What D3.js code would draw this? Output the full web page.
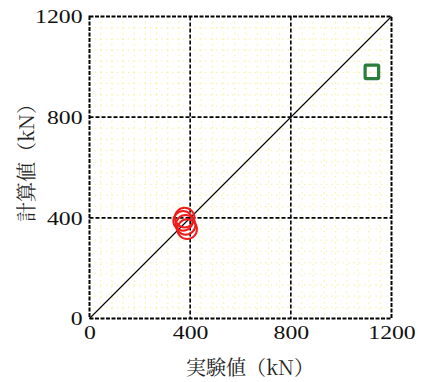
<!DOCTYPE html>
<html>
<head>
<meta charset="utf-8">
<script src="https://cdn.jsdelivr.net/npm/d3@7"></script>
<style>
  html, body { margin: 0; padding: 0; background: #fff; }
  svg { display: block; }
</style>
</head>
<body>
<svg id="chart" width="422" height="382"></svg>
<script>
// Axis settings
const domainMax = 1200;
const majorTicks = [0, 400, 800, 1200];
const minorDivisions = 27;

// Experimental vs computed capacity (kN)
const circleExp = [378, 372, 382, 388];
const circleCalc = [401, 388, 372, 355];
const squareExp = [1122];
const squareCalc = [980];

const xTitle = "実験値（kN）";
const yTitle = "計算値（kN）";

const margin = { left: 89.5, top: 16.5, right: 30.5, bottom: 63.5 };
const W = 422, H = 382;
const pw = W - margin.left - margin.right;
const ph = H - margin.top - margin.bottom;

const serifFont = '"Liberation Serif", "DejaVu Serif", serif';
const mincho = '"Noto Serif CJK JP", "Liberation Serif", serif';

const svg = d3.select("#chart");
const g = svg.append("g").attr("transform", `translate(${margin.left},${margin.top})`);

const x = d3.scaleLinear().domain([0, domainMax]).range([0, pw]);
const y = d3.scaleLinear().domain([0, domainMax]).range([ph, 0]);

// Minor dotted grid
const minorVals = d3.range(1, minorDivisions).map(i => i * domainMax / minorDivisions)
  .filter(v => !majorTicks.includes(Math.round(v)));
const minorStyle = sel => sel
  .attr("stroke", "#f2ea55").attr("stroke-width", 1.2).attr("stroke-dasharray", "1.2,4.3")
  .attr("opacity", 0.6);
g.append("g").selectAll("line").data(minorVals).join("line")
  .attr("x1", d => x(d)).attr("x2", d => x(d)).attr("y1", 0).attr("y2", ph)
  .call(minorStyle);
g.append("g").selectAll("line").data(minorVals).join("line")
  .attr("y1", d => y(d)).attr("y2", d => y(d)).attr("x1", 0).attr("x2", pw)
  .call(minorStyle);

// Major dashed grid
const inner = majorTicks.filter(v => v > 0 && v < domainMax);
g.append("g").selectAll("line").data(inner).join("line")
  .attr("x1", d => x(d)).attr("x2", d => x(d)).attr("y1", 0).attr("y2", ph)
  .attr("stroke", "#000").attr("stroke-width", 1.6).attr("stroke-dasharray", "4,2");
g.append("g").selectAll("line").data(inner).join("line")
  .attr("y1", d => y(d)).attr("y2", d => y(d)).attr("x1", 0).attr("x2", pw)
  .attr("stroke", "#000").attr("stroke-width", 1.6).attr("stroke-dasharray", "4,2");

// Frame
g.append("rect").attr("x", 0).attr("y", 0).attr("width", pw).attr("height", ph)
  .attr("fill", "none").attr("stroke", "#000").attr("stroke-width", 2)
  .attr("stroke-dasharray", "4,1.5");

// 1:1 line
g.append("line")
  .attr("x1", x(0)).attr("y1", y(0)).attr("x2", x(domainMax)).attr("y2", y(domainMax))
  .attr("stroke", "#000").attr("stroke-width", 1.1);

// Axes (labels only); digits are drawn slightly widened
const xAxis = d3.axisBottom(x).tickValues(majorTicks).tickFormat(d3.format("d")).tickSize(0).tickPadding(7);
const yAxis = d3.axisLeft(y).tickValues(majorTicks).tickFormat(d3.format("d")).tickSize(0).tickPadding(5.6);
const gx = g.append("g").attr("transform", `translate(0,${ph})`).call(xAxis);
const gy = g.append("g").call(yAxis);
[gx, gy].forEach(a => {
  a.attr("font-family", null).attr("font-size", null);
  a.select(".domain").remove();
  a.selectAll("text")
    .style("font-family", serifFont)
    .style("font-size", "19px")
    .attr("transform", "scale(1.25,1)")
    .attr("fill", "#111");
});
gy.selectAll("text").attr("dy", "0.34em");
gx.selectAll("text").attr("dy", "0.7em");

// Circle markers
g.append("g").selectAll("circle").data(circleExp.map((v, i) => [v, circleCalc[i]])).join("circle")
  .attr("cx", d => x(d[0])).attr("cy", d => y(d[1])).attr("r", 9.8)
  .attr("fill", "none").attr("stroke", "#ee1c1c").attr("stroke-width", 2);

// Square markers
const sq = 13.5;
g.append("g").selectAll("rect").data(squareExp.map((v, i) => [v, squareCalc[i]])).join("rect")
  .attr("x", d => x(d[0]) - sq / 2).attr("y", d => y(d[1]) - sq / 2)
  .attr("width", sq).attr("height", sq).attr("rx", 1)
  .attr("fill", "none").attr("stroke", "#2b7d3c").attr("stroke-width", 3.2);

// Axis titles
svg.append("text").attr("x", 250).attr("y", 375).attr("text-anchor", "middle")
  .style("font-family", mincho).style("font-size", "20px").attr("fill", "#222")
  .text(xTitle);
svg.append("text").attr("transform", "translate(34,158) rotate(-90)").attr("text-anchor", "middle")
  .style("font-family", mincho).style("font-size", "20px").attr("fill", "#222")
  .text(yTitle);
</script>
</body>
</html>
